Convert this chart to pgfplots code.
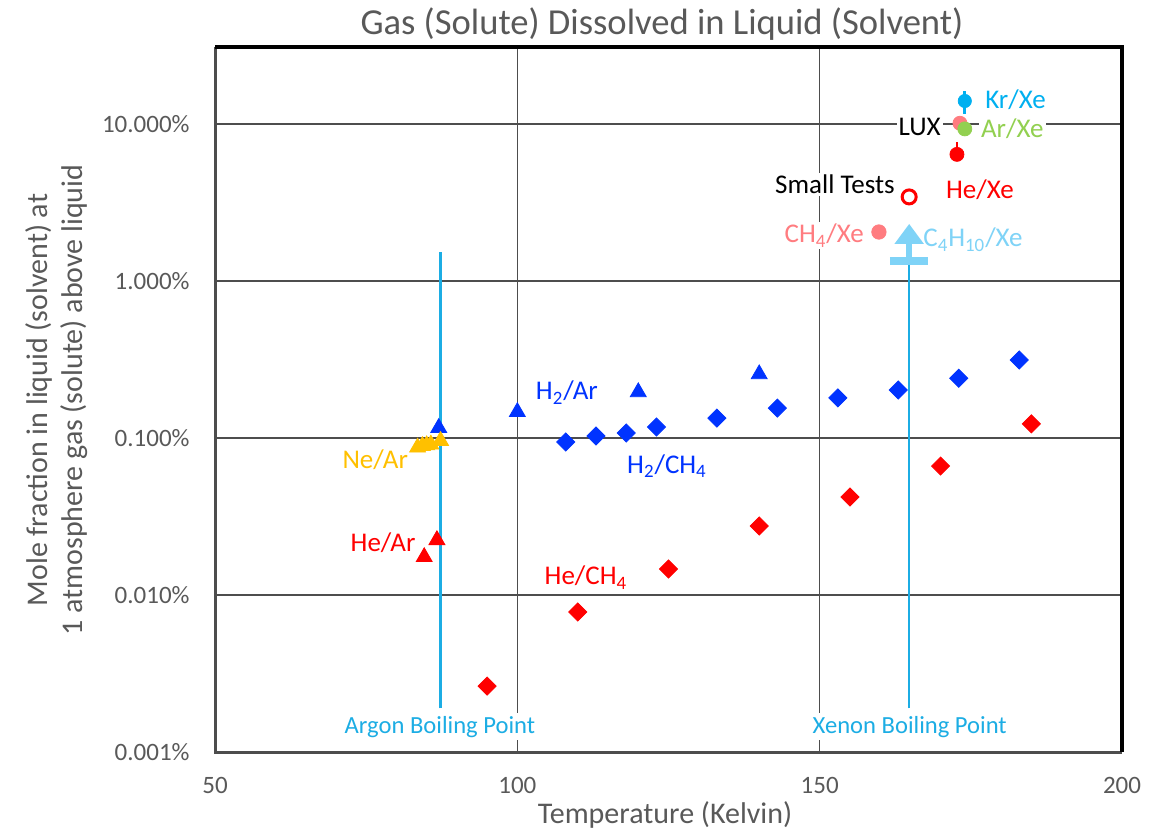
\documentclass[border=0pt]{standalone}
\usepackage{pgfplots}
\pgfplotsset{compat=1.18}
\usepackage{fontspec}
\setmainfont{Carlito}
\usetikzlibrary{arrows.meta}

\definecolor{txtgray}{HTML}{595959}
\definecolor{gridgray}{HTML}{4D4D4D}
\definecolor{hblue}{HTML}{0033FF}
\definecolor{hered}{HTML}{FF0000}
\definecolor{neyel}{HTML}{FFC000}
\definecolor{argreen}{HTML}{92D050}
\definecolor{salmon}{HTML}{FF7C80}
\definecolor{krcyan}{HTML}{00B0F0}
\definecolor{bpcyan}{HTML}{1CADE4}
\definecolor{butane}{HTML}{7FD3F7}

\newcommand{\lblfont}{\fontsize{13.5}{16}\selectfont}
\newcommand{\bpfont}{\fontsize{12.3}{14}\selectfont}

\begin{document}
\begin{tikzpicture}
\begin{axis}[
  name=ax, at={(0,0)}, anchor=south west,
  scale only axis, width=453.5pt, height=352.5pt,
  xmin=50, xmax=200,
  ymode=log, ymin=0.001, ymax=30.9,
  xtick={50,100,150,200}, xticklabels={50,100,150,200},
  ytick={0.001,0.01,0.1,1,10},
  yticklabels={0.001\%,0.010\%,0.100\%,1.000\%,10.000\%},
  major tick length=0pt, minor tick length=0pt,
  grid=major, major grid style={gridgray, line width=0.75pt},
  axis line style={draw=none},
  tick label style={text=txtgray, font=\fontsize{12.5}{15}\selectfont},
  xticklabel style={anchor=north, inner sep=0pt, yshift=-12.5pt},
  yticklabel style={anchor=east, inner sep=0pt, xshift=-12.5pt},
  clip=false,
]
% boiling points of the two solvents
\addplot[bpcyan, line width=1.25pt] coordinates {(87.3,0.0019) (87.3,1.53)};
\addplot[bpcyan, line width=1.25pt] coordinates {(164.8,0.0019) (164.8,1.34)};
\node[anchor=base, text=bpcyan, fill=white, inner sep=1.5pt, font=\bpfont] at (axis cs:87.2,0.00132) {Argon Boiling Point};
\node[anchor=base, text=bpcyan, fill=white, inner sep=1.5pt, font=\bpfont] at (axis cs:164.9,0.00132) {Xenon Boiling Point};

% series labels
\node[anchor=base west, text=krcyan, fill=white, inner sep=1pt, font=\lblfont] at (axis cs:177.0,12.46) {Kr/Xe};
\node[anchor=base west, text=argreen, fill=white, inner sep=1pt, font=\lblfont] at (axis cs:176.3,8.14) {Ar/Xe};
\node[anchor=base east, text=black, fill=white, inner sep=1pt, font=\lblfont] at (axis cs:170.4,8.39) {LUX};
\node[anchor=base, text=hered, fill=white, inner sep=1pt, font=\lblfont] at (axis cs:176.5,3.33) {He/Xe};
\node[anchor=base east, text=black, fill=white, inner sep=1pt, font=\lblfont] at (axis cs:162.8,3.58) {Small Tests};
\node[anchor=base east, text=salmon, fill=white, inner sep=1pt, font=\lblfont] at (axis cs:157.7,1.746) {CH\textsubscript{4}/Xe};
\node[anchor=base west, text=butane, fill=white, inner sep=1pt, font=\lblfont] at (axis cs:166.75,1.648) {C\textsubscript{4}H\textsubscript{10}/Xe};
\node[anchor=base, text=hblue, fill=white, inner sep=1pt, font=\lblfont] at (axis cs:108.2,0.1746) {H\textsubscript{2}/Ar};
\node[anchor=base, text=hblue, fill=white, inner sep=1pt, font=\lblfont] at (axis cs:124.75,0.0598) {H\textsubscript{2}/CH\textsubscript{4}};
\node[anchor=base, text=neyel, fill=white, inner sep=1pt, font=\lblfont] at (axis cs:76.5,0.0635) {Ne/Ar};
\node[anchor=base, text=hered, fill=white, inner sep=1pt, font=\lblfont] at (axis cs:77.8,0.0188) {He/Ar};
\node[anchor=base, text=hered, fill=white, inner sep=1pt, font=\lblfont] at (axis cs:111.35,0.01158) {He/CH\textsubscript{4}};

% H2 in CH4
\addplot[only marks, mark=square*, mark size=3.2pt, mark options={rotate=45, draw=hblue, fill=hblue}] coordinates {
  (108,0.0943) (113,0.103) (118,0.1076) (123,0.1175) (133,0.134)
  (143,0.155) (153,0.180) (163,0.202) (173,0.240) (183,0.314)};
% H2 in Ar
\addplot[only marks, mark=triangle*, mark size=4.6pt, mark options={draw=hblue, fill=hblue}] coordinates {
  (87,0.116) (100,0.1465) (120,0.196) (140,0.255)};
% Ne in Ar
\addplot[only marks, mark=triangle*, mark size=4.6pt, mark options={draw=neyel, fill=neyel}] coordinates {
  (83.5,0.087) (84.3,0.089) (85.0,0.090) (85.7,0.091) (87.3,0.096)};
% He in Ar
\addplot[only marks, mark=triangle*, mark size=4.6pt, mark options={draw=hered, fill=hered}] coordinates {
  (84.6,0.01746) (86.7,0.0224)};
% He in CH4
\addplot[only marks, mark=square*, mark size=3.2pt, mark options={rotate=45, draw=hered, fill=hered}] coordinates {
  (95,0.00263) (110,0.0078) (125,0.01465) (140,0.0275) (155,0.0421) (170,0.0663) (185,0.123)};

% solubilities in liquid xenon
\addplot[only marks, mark=*, mark size=3.5pt, mark options={draw=salmon, fill=salmon}] coordinates {(173.2,10.1)};
\addplot[only marks, mark=*, mark size=3.5pt, mark options={draw=argreen, fill=argreen}] coordinates {(174.0,9.3)};
\addplot[only marks, mark=*, mark size=3.3pt, mark options={draw=krcyan, fill=krcyan},
  error bars/.cd, y dir=both, y explicit, error mark=none,
  error bar style={krcyan, line width=1.4pt}] coordinates {(174.0,14.0) += (0,2.2) -= (0,2.4)};
\addplot[only marks, mark=*, mark size=3.5pt, mark options={draw=hered, fill=hered},
  error bars/.cd, y dir=plus, y explicit, error mark=none,
  error bar style={hered, line width=1.4pt}] coordinates {(172.7,6.4) += (0,1.3) -= (0,0)};
\addplot[only marks, mark=*, mark size=3.5pt, mark options={draw=hered, fill=white, line width=1.5pt}] coordinates {(164.8,3.43)};
\addplot[only marks, mark=*, mark size=3.6pt, mark options={draw=salmon, fill=salmon}] coordinates {(159.8,2.05)};
% butane lower limit
\addplot[butane, line width=4pt] coordinates {(161.6,1.34) (167.9,1.34)};
\addplot[butane, line width=3pt, -{Triangle[width=14pt,length=10pt]}] coordinates {(164.8,1.34) (164.8,2.31)};
\end{axis}

% frame
\draw[gridgray, line width=1.5pt] (ax.north west) -- (ax.south west) -- (ax.south east);
\draw[black, line width=2pt] (ax.north west) -- (ax.north east) -- (ax.south east);

% titles
\node[text=txtgray, font=\fontsize{18.3}{21}\selectfont] at (223.5pt,364pt) {Gas (Solute) Dissolved in Liquid (Solvent)};
\node[text=txtgray, font=\fontsize{15}{18}\selectfont] at (225pt,-31.5pt) {Temperature (Kelvin)};
\node[rotate=90, align=center, text=txtgray, font=\fontsize{15}{17.5}\selectfont] at (-79pt,176pt) {Mole fraction in liquid (solvent) at\\1 atmosphere gas (solute) above liquid};

\pgfresetboundingbox
\path[use as bounding box] (-107.5pt,-40pt) rectangle (475pt,376pt);
\end{tikzpicture}
\end{document}
